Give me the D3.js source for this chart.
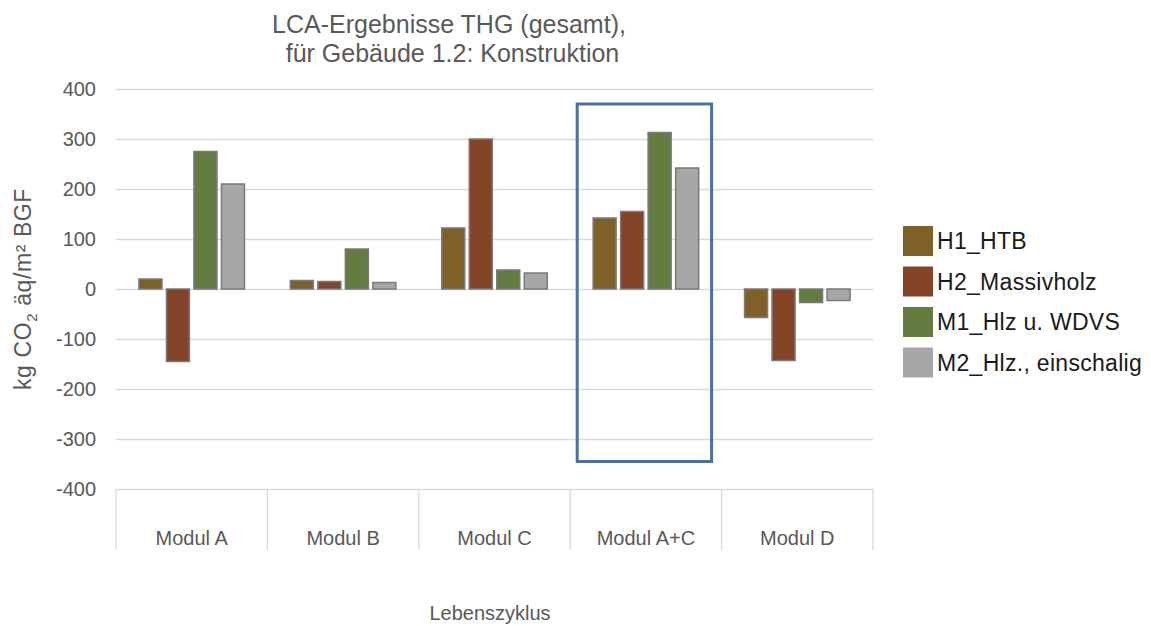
<!DOCTYPE html>
<html>
<head>
<meta charset="utf-8">
<script src="https://cdn.jsdelivr.net/npm/d3@7"></script>
<style>
  body { margin: 0; background: #fff; }
  svg text { font-family: "Liberation Sans", Arial, sans-serif; fill: #595959; }
</style>
</head>
<body>
<div id="chart"></div>
<script>
const categories = ["Modul A", "Modul B", "Modul C", "Modul A+C", "Modul D"];
const seriesNames = ["H1_HTB", "H2_Massivholz", "M1_Hlz u. WDVS", "M2_Hlz., einschalig"];
const h1Values = [20, 17, 122, 142, -57];
const h2Values = [-145, 15, 300, 155, -143];
const m1Values = [275, 80, 38, 313, -27];
const m2Values = [210, 13, 32, 242, -23];
const yTicks = [-400, -300, -200, -100, 0, 100, 200, 300, 400];
const colors = ["#7f6128", "#834428", "#637c3f", "#a7a7a9"];
const highlightCat = "Modul A+C";
const highlightSpan = [370, -345];

const width = 1151, height = 626;
const m = {top: 89, right: 278, bottom: 137, left: 116};

const values = [h1Values, h2Values, m1Values, m2Values];
const rows = categories.map((c, i) => ({
  cat: c,
  vals: seriesNames.map((s, j) => ({key: s, value: values[j][i], idx: j}))
}));

const svg = d3.select('#chart').append('svg')
  .attr('width', width)
  .attr('height', height);

const x0 = d3.scaleBand()
  .domain(categories)
  .range([m.left, width - m.right]);

const groupW = x0.bandwidth() * 0.697;
const x1 = d3.scaleBand()
  .domain(seriesNames)
  .range([0, groupW])
  .paddingInner(0.164);

const y = d3.scaleLinear()
  .domain([-400, 400])
  .range([height - m.bottom, m.top]);

// gridlines + tick labels (plain hyphen like excel)
const yAxis = svg.append('g')
  .attr('transform', 'translate(' + m.left + ',0)')
  .call(d3.axisLeft(y)
    .tickValues(yTicks)
    .tickFormat(d => String(d))
    .tickSize(-(width - m.left - m.right))
    .tickPadding(20));
yAxis.select('.domain').remove();
yAxis.selectAll('line').attr('stroke', '#d9d9d9').attr('stroke-width', 1.3);
yAxis.selectAll('text')
  .style('font-size', '20px')
  .style('fill', '#595959')
  .style('font-family', '"Liberation Sans", Arial, sans-serif');

// category axis boxes
const catAxis = svg.append('g');
const edges = categories.map(c => x0(c)).concat([x0.range()[1]]);
catAxis.selectAll('line.div')
  .data(edges)
  .enter().append('line')
  .attr('x1', d => d).attr('x2', d => d)
  .attr('y1', y(-400)).attr('y2', y(-400) + 61)
  .attr('stroke', '#d9d9d9').attr('stroke-width', 1.3);

catAxis.selectAll('text')
  .data(categories)
  .enter().append('text')
  .attr('x', d => x0(d) + x0.bandwidth() / 2)
  .attr('y', y(-400) + 56)
  .attr('text-anchor', 'middle')
  .style('font-size', '20px')
  .text(d => d);

// bars
const groups = svg.selectAll('g.group')
  .data(rows)
  .enter().append('g')
  .attr('class', 'group')
  .attr('transform', d => 'translate(' + (x0(d.cat) + (x0.bandwidth() - groupW) / 2) + ',0)');

groups.selectAll('rect')
  .data(d => d.vals)
  .enter().append('rect')
  .attr('x', d => x1(d.key))
  .attr('width', x1.bandwidth())
  .attr('y', d => y(Math.max(0, d.value)))
  .attr('height', d => Math.abs(y(d.value) - y(0)))
  .attr('fill', d => colors[d.idx])
  .attr('stroke', '#7a7a7a')
  .attr('stroke-width', 1.5);

// highlight box
svg.append('rect')
  .attr('x', x0(highlightCat) + 7)
  .attr('width', x0.bandwidth() - 17)
  .attr('y', y(highlightSpan[0]))
  .attr('height', y(highlightSpan[1]) - y(highlightSpan[0]))
  .attr('fill', 'none')
  .attr('stroke', '#4a72a0')
  .attr('stroke-width', 3);

// title
const title = svg.append('text')
  .attr('text-anchor', 'middle')
  .style('font-size', '25px');
title.append('tspan').attr('x', 449).attr('y', 33).text('LCA-Ergebnisse THG (gesamt),');
title.append('tspan').attr('x', 449).attr('y', 62).text('\u00a0für Gebäude 1.2: Konstruktion');

// axis titles
svg.append('text')
  .attr('x', 490)
  .attr('y', 620)
  .attr('text-anchor', 'middle')
  .style('font-size', '20px')
  .text('Lebenszyklus');

const yLabel = svg.append('text')
  .attr('transform', 'translate(31,' + y(0) + ') rotate(-90)')
  .attr('text-anchor', 'middle')
  .style('font-size', '23px')
  .style('letter-spacing', '0.6px');
yLabel.append('tspan').text('kg CO');
yLabel.append('tspan').attr('dy', 6).style('font-size', '15px').text('2');
yLabel.append('tspan').attr('dy', -6).text(' äq/m² BGF');

// legend
const legend = svg.append('g')
  .attr('transform', 'translate(903,226)');
const item = legend.selectAll('g')
  .data(seriesNames)
  .enter().append('g')
  .attr('transform', (d, i) => 'translate(0,' + i * 40.5 + ')');
item.append('rect')
  .attr('width', 30).attr('height', 30)
  .attr('fill', (d, i) => colors[i]);
item.append('text')
  .attr('x', 34)
  .attr('y', 15)
  .attr('dy', '0.35em')
  .style('font-size', '23px')
  .style('letter-spacing', '0.3px')
  .style('fill', '#1a1a1a')
  .text(d => d);
</script>
</body>
</html>
